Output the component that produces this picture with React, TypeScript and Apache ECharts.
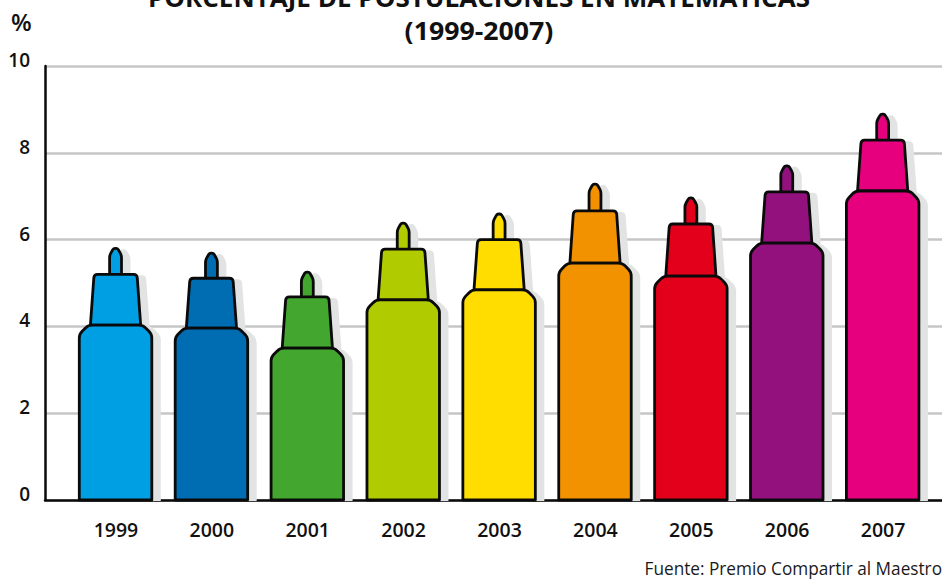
import React, { useEffect, useRef } from "react";
import * as echarts from "echarts";

const years = ["1999", "2000", "2001", "2002", "2003", "2004", "2005", "2006", "2007"];
const bodyTop = [4.03, 3.96, 3.5, 4.61, 4.84, 5.46, 5.16, 5.92, 7.12];
const capTop = [5.2, 5.11, 4.68, 5.78, 6.0, 6.66, 6.36, 7.1, 8.29];
const tipTop = [5.8, 5.69, 5.25, 6.38, 6.59, 7.28, 6.96, 7.7, 8.89];
const colors = ["#009FE3", "#006DB2", "#43A62F", "#B0CB00", "#FFDD00", "#F39200", "#E2001A", "#92117D", "#E6007E"];
const FONT = "'Open Sans', 'Noto Sans', sans-serif";

type P = [number, number, number];
function rounded(points: P[]): string {
  const n = points.length;
  let d = "";
  for (let i = 0; i < n; i++) {
    const [x, y, r] = points[i];
    const [px, py] = points[(i + n - 1) % n];
    const [nx, ny] = points[(i + 1) % n];
    if (!r) {
      d += `${i ? "L" : "M"}${x} ${y} `;
      continue;
    }
    const l1 = Math.hypot(px - x, py - y);
    const l2 = Math.hypot(nx - x, ny - y);
    const a = [x + ((px - x) * r) / l1, y + ((py - y) * r) / l1];
    const b = [x + ((nx - x) * r) / l2, y + ((ny - y) * r) / l2];
    d += `${i ? "L" : "M"}${a[0]} ${a[1]} Q${x} ${y} ${b[0]} ${b[1]} `;
  }
  return d + "Z";
}

function renderMarker(params: any, api: any) {
  const band = api.size([1, 0])[0];
  const [cx0, y0] = api.coord([api.value(0), 0]);
  const cx = cx0 - 0.4;
  const yBody = api.coord([api.value(0), api.value(1)])[1];
  const yCap = api.coord([api.value(0), api.value(2)])[1];
  const yTip = api.coord([api.value(0), api.value(3)])[1];
  const hb = band * 0.378;
  const hcb = band * 0.262;
  const hct = band * 0.224;
  const ht = band * 0.062;

  const shapes = (dx: number, dy: number) => {
    const bottom = y0;
    return {
      tip: rounded([
        [cx - ht + dx, yCap + 2 + dy, 0],
        [cx - ht + dx, yTip + 7 + dy, 2.5],
        [cx - 2 + dx, yTip + dy, 1.6],
        [cx + 2 + dx, yTip + dy, 1.6],
        [cx + ht + dx, yTip + 7 + dy, 2.5],
        [cx + ht + dx, yCap + 2 + dy, 0],
      ]),
      cap: rounded([
        [cx - hcb + dx, yBody + dy, 0],
        [cx - hct + dx, yCap + dy, 3.5],
        [cx + hct + dx, yCap + dy, 3.5],
        [cx + hcb + dx, yBody + dy, 0],
      ]),
      body: rounded([
        [cx - hb + dx, bottom, 0],
        [cx - hb + dx, yBody + 9 + dy, 4],
        [cx - hb + 9 + dx, yBody + dy, 4],
        [cx + hb - 9 + dx, yBody + dy, 4],
        [cx + hb + dx, yBody + 9 + dy, 4],
        [cx + hb + dx, bottom, 0],
      ]),
    };
  };
  const color = colors[api.value(0)];
  const shadow = shapes(8, 2);
  const main = shapes(0, 0);
  const shadowStyle = { fill: "#E2E3E3", stroke: "#E2E3E3", lineWidth: 2 };
  const style = { fill: color, stroke: "#0A0A0A", lineWidth: 2.8, lineJoin: "round" };
  const part = (pathData: string, s: any) => ({ type: "path", shape: { pathData }, style: s });
  return {
    type: "group",
    children: [
      part(shadow.tip, shadowStyle),
      part(shadow.cap, shadowStyle),
      part(shadow.body, shadowStyle),
      part(main.tip, style),
      part(main.cap, style),
      part(main.body, style),
    ],
  };
}

export default function App() {
  const ref = useRef<HTMLDivElement>(null);
  useEffect(() => {
    const chart = echarts.init(ref.current!, undefined, { renderer: "svg" });
    chart.setOption({
      animation: false,
      backgroundColor: "#fff",
      grid: [
        { left: 45, right: 0, top: 66, bottom: 80 },
        { left: 68, width: 863, top: 66, bottom: 80 },
      ],
      xAxis: [
        {
          type: "value",
          gridIndex: 0,
          min: 0,
          max: 1,
          axisLine: { show: true, onZero: false, lineStyle: { color: "#0A0A0A", width: 2.5 } },
          axisTick: { show: false },
          axisLabel: { show: false },
          splitLine: { show: false },
        },
        {
          type: "category",
          gridIndex: 1,
          data: years,
          axisLine: { show: false },
          axisTick: { show: false },
          axisLabel: {
            margin: 19,
            fontFamily: FONT,
            fontWeight: 600,
            fontSize: 19.5,
            color: "#111",
          },
        },
      ],
      yAxis: [
        {
          type: "value",
          gridIndex: 0,
          min: 0,
          max: 10,
          interval: 2,
          axisLine: { show: true, lineStyle: { color: "#0A0A0A", width: 2.5 } },
          axisTick: { show: false },
          axisLabel: {
            margin: 15,
            fontFamily: FONT,
            fontWeight: 600,
            fontSize: 19,
            color: "#111",
            verticalAlign: "bottom",
            lineHeight: 12,
          },
          splitLine: { show: true, lineStyle: { color: "#C6C6C6", width: 2.5 } },
        },
        { type: "value", gridIndex: 1, min: 0, max: 10, show: false },
      ],
      graphic: [
        {
          type: "text",
          x: 479,
          y: -15,
          scaleX: 1.064,
          style: {
            text: "PORCENTAJE DE POSTULACIONES EN MATEMÁTICAS",
            fontFamily: FONT,
            fontWeight: 700,
            fontSize: 24.5,
            fill: "#111",
            align: "center",
          },
        },
        {
          type: "text",
          x: 479,
          y: 18,
          scaleX: 1.09,
          style: {
            text: "(1999-2007)",
            fontFamily: FONT,
            fontWeight: 700,
            fontSize: 24.5,
            fill: "#111",
            align: "center",
          },
        },
        {
          type: "text",
          x: 11,
          y: 9,
          style: { text: "%", fontFamily: FONT, fontWeight: 600, fontSize: 24, fill: "#111" },
        },
        {
          type: "text",
          x: 942,
          y: 558,
          scaleX: 0.906,
          style: {
            text: "Fuente: Premio Compartir al Maestro",
            fontFamily: FONT,
            fontWeight: 400,
            fontSize: 19,
            fill: "#1a1a1a",
            align: "right",
          },
        },
      ],
      series: [
        {
          type: "custom",
          xAxisIndex: 1,
          yAxisIndex: 1,
          clip: false,
          renderItem: renderMarker,
          encode: { x: 0, y: [1, 2, 3] },
          data: years.map((_, i) => [i, bodyTop[i], capTop[i], tipTop[i]]),
        },
      ],
    });
    return () => chart.dispose();
  }, []);
  return <div ref={ref} style={{ position: "fixed", left: 0, top: 0, width: 942, height: 580 }} />;
}
